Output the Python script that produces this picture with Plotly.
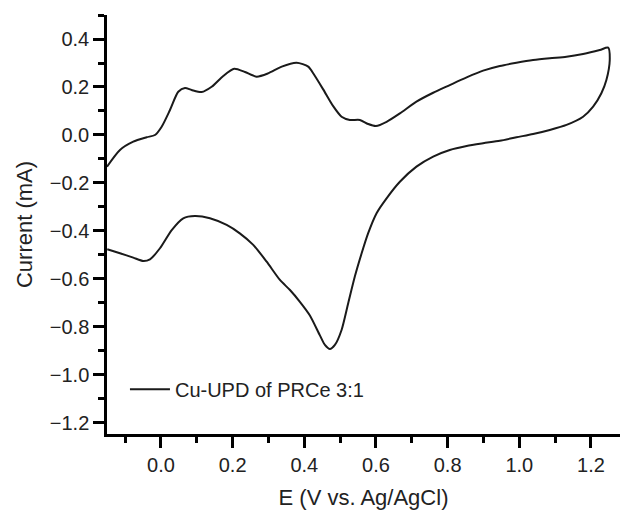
import plotly.graph_objects as go

# Cyclic voltammogram (E in V vs Ag/AgCl, current in mA)
# Anodic (upper) branch, left to right
e_upper = [-0.1506, -0.1144, -0.0773, -0.0399, -0.0167, 0.002, 0.0251, 0.0483, 0.067, 0.0856,
           0.1135, 0.1414, 0.1738, 0.2045, 0.2343, 0.267, 0.299, 0.337, 0.3785, 0.411,
           0.427, 0.4527, 0.4806, 0.504, 0.527, 0.555, 0.578, 0.5997, 0.6296, 0.6667,
           0.713, 0.7596, 0.806, 0.853, 0.899, 0.9456, 0.992, 1.0385, 1.085, 1.1317,
           1.178, 1.2245, 1.248]
i_upper = [-0.132, -0.0625, -0.028, -0.0096, 0.0, 0.0346, 0.104, 0.180, 0.196, 0.1875,
           0.179, 0.201, 0.246, 0.276, 0.2625, 0.243, 0.257, 0.285, 0.301, 0.285,
           0.252, 0.190, 0.120, 0.076, 0.0625, 0.0625, 0.046, 0.0375, 0.055, 0.090,
           0.139, 0.176, 0.208, 0.240, 0.268, 0.2875, 0.301, 0.3125, 0.320, 0.326,
           0.3375, 0.354, 0.364]
# Cathodic (lower) branch, right to left
e_lower = [1.2524, 1.243, 1.229, 1.206, 1.178, 1.1317, 1.085, 1.0385, 0.992, 0.9456,
           0.899, 0.853, 0.806, 0.7596, 0.713, 0.6667, 0.6296, 0.6017, 0.578, 0.560,
           0.541, 0.5225, 0.504, 0.4854, 0.4714, 0.4575, 0.4435, 0.4156,
           0.3877, 0.36, 0.332, 0.295, 0.2575, 0.220, 0.1833, 0.1367, 0.0948, 0.0622,
           0.030, -0.0028, -0.0307, -0.0494, -0.0773, -0.1144, -0.150]
i_lower = [0.3125, 0.229, 0.174, 0.118, 0.076, 0.042, 0.021, 0.004, -0.0096, -0.024,
           -0.0346, -0.046, -0.0625, -0.090, -0.132, -0.195, -0.264, -0.326, -0.410, -0.493,
           -0.590, -0.701, -0.8125, -0.875, -0.892, -0.875, -0.835, -0.752,
           -0.695, -0.646, -0.604, -0.528, -0.458, -0.410, -0.375, -0.347, -0.3375, -0.347,
           -0.396, -0.472, -0.518, -0.525, -0.511, -0.493, -0.476]

series_name = "Cu-UPD of PRCe 3:1"
x_title = "E (V vs. Ag/AgCl)"
y_title = "Current (mA)"

E = e_upper + e_lower
I = i_upper + i_lower

fig = go.Figure()
fig.add_trace(go.Scatter(
    x=E, y=I, mode="lines", name=series_name,
    line=dict(color="#1a1a1a", width=2, shape="spline", smoothing=0.7),
))

font_family = "Liberation Sans, Arial, sans-serif"
axis_common = dict(
    showline=True, linecolor="black", linewidth=2.5, mirror=False,
    ticks="outside", ticklen=11, tickwidth=2.5, tickcolor="black",
    showgrid=False, zeroline=False, automargin=False,
    tickfont=dict(family=font_family, size=20, color="#222"),
)

fig.update_layout(
    width=620, height=510,
    margin=dict(l=107, r=0, t=15, b=76),
    paper_bgcolor="white", plot_bgcolor="white",
    font=dict(family=font_family, color="#222"),
    showlegend=True,
    legend=dict(x=0.035, y=0.107, xanchor="left", yanchor="middle",
                bgcolor="rgba(0,0,0,0)", font=dict(size=20, family=font_family, color="#222"),
                itemwidth=40),
    xaxis=dict(
        range=[-0.1506, 1.281], tick0=0, dtick=0.2, tickformat=".1f",
        minor=dict(ticks="outside", ticklen=6, tickwidth=2.5, tickcolor="black", dtick=0.1, tick0=0),
        title=dict(text=x_title, font=dict(size=22, family=font_family, color="#222"), standoff=15),
        **axis_common,
    ),
    yaxis=dict(
        range=[-1.246, 0.5], tick0=0, dtick=0.2, tickformat=".1f",
        minor=dict(ticks="outside", ticklen=6, tickwidth=2.5, tickcolor="black", dtick=0.1, tick0=0),
        title=dict(text=y_title, font=dict(size=22, family=font_family, color="#222"), standoff=12),
        **axis_common,
    ),
)

fig.write_html("out.html", config={"displayModeBar": False},
               post_script="document.body.style.margin='0px';")
